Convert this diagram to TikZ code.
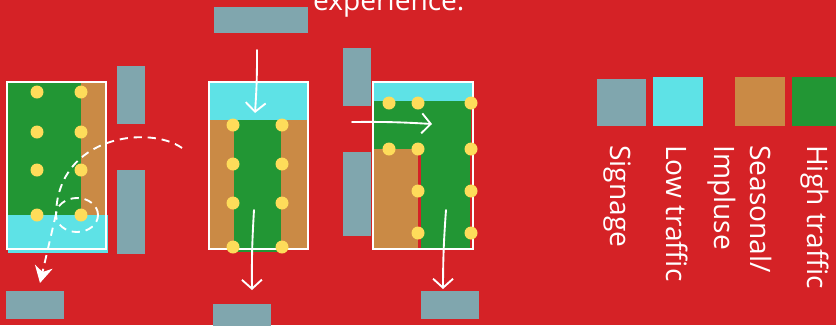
\documentclass[tikz,border=0pt]{standalone}
\usepackage{fontspec}
\setmainfont{Open Sans}
\usetikzlibrary{arrows.meta}

\definecolor{wallred}{HTML}{D52226}
\definecolor{signgrey}{HTML}{80A6AE}
\definecolor{lowcyan}{HTML}{5EE2E6}
\definecolor{seasonbrown}{HTML}{CA8A45}
\definecolor{hotgreen}{HTML}{229634}
\definecolor{lampyellow}{HTML}{FEDC5A}

\begin{document}
\begin{tikzpicture}[
  x=0.03cm, y=-0.03cm,
  font=\fontsize{24}{31}\selectfont,
  signage/.style={fill=signgrey},
  lowzone/.style={fill=lowcyan},
  seasonzone/.style={fill=seasonbrown},
  hotzone/.style={fill=hotgreen},
  outline/.style={draw=white, line width=1.5pt},
  lamp/.style={circle, fill=lampyellow, inner sep=0pt, minimum size=0.39cm},
  walk/.style={draw=white, line width=1.6pt, line cap=round,
               -{Straight Barb[length=2.7mm, width=6mm]}},
  wander/.style={draw=white, line width=1.6pt, dash pattern=on 7pt off 5pt},
  keytext/.style={text=white, rotate=-90, anchor=base west, align=left, inner sep=0pt}
]
\useasboundingbox (0,0) rectangle (836,325);
\fill[wallred] (0,0) rectangle (836,325);

\node[text=white, anchor=base west, inner sep=0pt] (tagline) at (313,10) {experience.};

% store one
\fill[hotzone] (8,83) rectangle (81,215);
\fill[seasonzone] (81,83) rectangle (106,215);
\fill[lowzone] (8,215) rectangle (108,253);
\draw[outline] (7,82) rectangle (106,249);
\foreach \row [count=\i] in {92,132,170,215} {
  \node[lamp] (lampa\i) at (37,\row) {};
  \node[lamp] (lampb\i) at (81,\row) {};
}
\fill[signage] (117,66) rectangle (145,124);
\fill[signage] (117,170) rectangle (145,254);
\fill[signage] (6,291) rectangle (64,319);

% store two
\fill[seasonzone] (209,120) rectangle (308,249);
\fill[hotzone] (234,120) rectangle (281,252);
\fill[lowzone] (209,83) rectangle (308,120);
\draw[outline] (209,82) rectangle (308,249);
\foreach \row [count=\i] in {125,164,203,247} {
  \node[lamp] (lampc\i) at (233,\row) {};
  \node[lamp] (lampd\i) at (282,\row) {};
}
\fill[signage] (214,7) rectangle (308,33);
\fill[signage] (343,48) rectangle (371,106);
\fill[signage] (343,152) rectangle (371,236);
\fill[signage] (213,304) rectangle (271,330);

% store three
\fill[lowzone] (374,83) rectangle (473,101);
\fill[hotzone] (374,101) rectangle (471,149);
\fill[seasonzone] (374,149) rectangle (418,248);
\fill[hotzone] (421,149) rectangle (470,248);
\draw[outline] (373,82) rectangle (473,249);
\foreach \x/\y [count=\i] in {389/103,418/103,471/103,389/149,418/149,471/149,418/191,471/191,418/233,471/233} {
  \node[lamp] (lampe\i) at (\x,\y) {};
}
\fill[signage] (421,291) rectangle (479,319);

% walking paths
\coordinate (drift) at (182,148);
\coordinate (linger) at (56,214);
\coordinate (exita) at (40,283);
\draw[wander] (drift) .. controls (150,125) and (58,135) .. (linger);
\draw[wander] ([xshift=-0.12cm]lampb4) ellipse [x radius=0.63cm, y radius=0.51cm];
\draw[wander, -{Stealth[length=5mm, width=5.4mm, inset=1.6mm]}] (linger) -- (exita);

\coordinate (inb) at (257,50);
\coordinate (stopb) at (255,113);
\coordinate (leaveb) at (254,210);
\coordinate (exitb) at (252,290);
\draw[walk] (inb) to[bend left=2] (stopb);
\draw[walk] (leaveb) to[bend right=2] (exitb);

\coordinate (inc) at (352,122);
\coordinate (stopc) at (432,124);
\coordinate (leavec) at (446,210);
\coordinate (exitc) at (443,289);
\draw[walk] (inc) to[bend left=2] (stopc);
\draw[walk] (leavec) to[bend right=2] (exitc);

% key
\fill[signage] (597,79) rectangle (646,126);
\fill[lowzone] (653,77) rectangle (703,126);
\fill[seasonzone] (735,77) rectangle (785,126);
\fill[hotzone] (792,77) rectangle (840,126);
\node[keytext] (keysign) at (610,145) {Signage};
\node[keytext] (keylow) at (666,145) {Low traffic};
\node[keytext] (keyseason) at (714,145) {Seasonal/\\Impluse};
\node[keytext] (keyhigh) at (807,145) {High traffic};
\end{tikzpicture}
\end{document}
